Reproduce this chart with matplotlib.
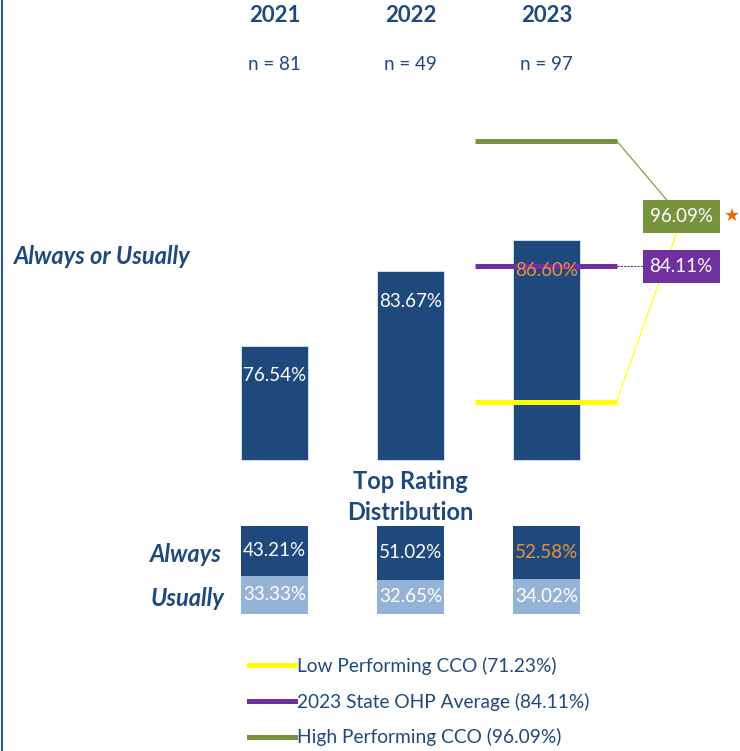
import matplotlib
matplotlib.use("Agg")
import matplotlib.pyplot as plt
from matplotlib.lines import Line2D
from matplotlib.patches import Rectangle

plt.rcParams['font.family'] = ['Lato', 'DejaVu Sans']

# data
years = ['2021', '2022', '2023']
n_counts = [81, 49, 97]
always_or_usually = [76.54, 83.67, 86.60]
always = [43.21, 51.02, 52.58]
usually = [33.33, 32.65, 34.02]
highlight = [False, False, True]   # value shown in orange

bench_names = ['Low Performing CCO', '2023 State OHP Average', 'High Performing CCO']
bench_values = [71.23, 84.11, 96.09]

# colours
navy = '#1F497D'
light = '#95B3D7'
orange = '#E8913F'
bench_colors = ['#FFFF00', '#7030A0', '#77933C']

W, H = 740, 751
fig = plt.figure(figsize=(W / 100, H / 100), dpi=100)

# pixel -> data layout of the main panel
x0_px, step_px = 274.5, 136.0
base_px, per_pt = 460.0, 10.5
base = 65.68
xlim = (-x0_px / step_px, (W - x0_px) / step_px)

ax = fig.add_axes([0, 0, 1, 1])
ax.set_xlim(*xlim)
ax.set_ylim(base - (H - base_px) / per_pt, base + base_px / per_pt)
ax.axis('off')

xs = list(range(len(years)))
bw = 0.49

bars = ax.bar(xs, [v - base for v in always_or_usually], bottom=base, width=bw,
              color=navy, edgecolor='#DCE6F2', linewidth=0.6, zorder=2)
for x, v, hl in zip(xs, always_or_usually, highlight):
    ax.annotate(f'{v:.2f}%', (x, v), xytext=(0, -21.6), textcoords='offset points',
                ha='center', va='center', fontsize=13.5,
                color=orange if hl else 'white', zorder=5)

# benchmark lines across the 2023 bar
ref_x0, ref_x1 = 1.475, 2.515
for v, c in zip(bench_values, bench_colors):
    ax.hlines(v, ref_x0, ref_x1, colors=c, linewidth=3.6, zorder=3)

# benchmark labels on the right
box_x, box_w, box_h = 2.99, 0.566, 3.14
green_y = 88.88
state_y = bench_values[1]
for y, c, v in [(green_y, bench_colors[2], bench_values[2]), (state_y, bench_colors[1], bench_values[1])]:
    ax.add_patch(Rectangle((box_x - box_w / 2, y - box_h / 2), box_w, box_h,
                           facecolor=c, edgecolor='none', zorder=4))
    ax.text(box_x, y, f'{v:.2f}%', ha='center', va='center', fontsize=13.5,
            color='white', zorder=5)

ax.plot([ref_x1, 2.884], [bench_values[2], green_y + box_h / 2], color=bench_colors[2], lw=0.8, zorder=1)
ax.plot([ref_x1, 2.957], [bench_values[0], green_y - box_h / 2], color=bench_colors[0], lw=0.8, zorder=1)
ax.plot([ref_x1, box_x - box_w / 2], [bench_values[1], state_y], color=bench_colors[1], lw=0.8,
        linestyle=(0, (2, 1)), zorder=1)
ax.text(3.36, green_y, '★', family='DejaVu Sans', fontsize=13, color='#E46C0A',
        ha='center', va='center')

# headers
xt = ax.get_xaxis_transform()
for x, yr, n in zip(xs, years, n_counts):
    ax.text(x, 1 - 16 / H, yr, transform=xt, ha='center', va='center',
            fontsize=16, fontweight='bold', color=navy)
    ax.text(x, 1 - 65 / H, f'n = {n}', transform=xt, ha='center', va='center',
            fontsize=13.5, color=navy)

ax.text(14 / W, 1 - 256 / H, 'Always or Usually', transform=ax.transAxes, ha='left',
        va='center', fontsize=17, fontweight='bold', style='italic', color=navy)
ax.text(1, 1 - 497 / H, 'Top Rating\nDistribution', transform=xt, ha='center',
        va='center', fontsize=17, fontweight='bold', color=navy, linespacing=1.4)
ax.text(222 / W, 1 - 555 / H, 'Always', transform=ax.transAxes, ha='right',
        va='center', fontsize=17, fontweight='bold', style='italic', color=navy)
ax.text(225 / W, 1 - 598 / H, 'Usually', transform=ax.transAxes, ha='right',
        va='center', fontsize=17, fontweight='bold', style='italic', color=navy)

# distribution panel (100% stacked)
ax2 = fig.add_axes([0, (H - 614) / H, 1, 88 / H])
ax2.set_xlim(*xlim)
ax2.set_ylim(0, 100)
ax2.axis('off')
us_share = [u / (a + u) * 100 for a, u in zip(always, usually)]
al_share = [a / (a + u) * 100 for a, u in zip(always, usually)]
ax2.bar(xs, us_share, width=bw, color=light, zorder=2)
ax2.bar(xs, al_share, bottom=us_share, width=bw, color=navy, zorder=2)
for x, a, u, sa, su, hl in zip(xs, always, usually, al_share, us_share, highlight):
    ax2.text(x, su + sa / 2, f'{a:.2f}%', ha='center', va='center', fontsize=13.5,
             color=orange if hl else 'white')
    ax2.text(x, su / 2, f'{u:.2f}%', ha='center', va='center', fontsize=13.5, color='white')

# left border
fig.add_artist(Line2D([1.5 / W, 1.5 / W], [0, 1], color='#2F5597', lw=1.5))

# legend
handles = [Line2D([], [], color=c, lw=3.6) for c in bench_colors]
labels = [f'{nm} ({v:.2f}%)' for nm, v in zip(bench_names, bench_values)]
fig.legend(handles, labels, loc='upper left', bbox_to_anchor=(249 / W, 1 - 657 / H),
           frameon=False, fontsize=13.8, handlelength=2.4, handletextpad=0.1,
           labelspacing=0.92, borderpad=0, borderaxespad=0, labelcolor=navy)

fig.savefig('out.png', dpi=100)
